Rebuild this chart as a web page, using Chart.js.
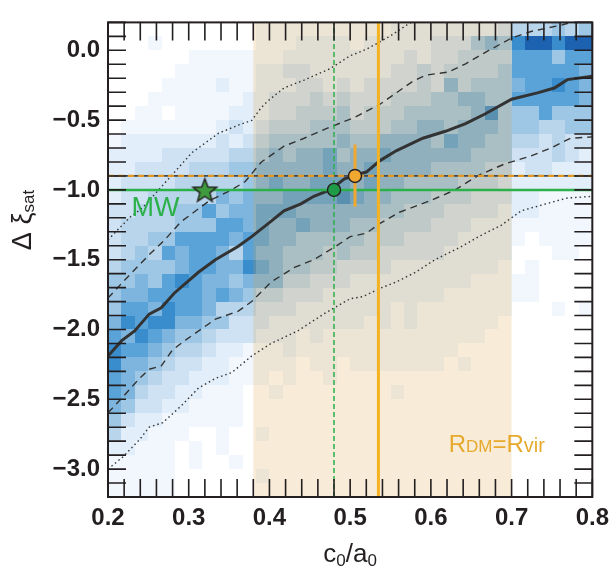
<!DOCTYPE html>
<html>
<head>
<meta charset="utf-8">
<script src="https://cdn.jsdelivr.net/npm/chart.js@4.4.0/dist/chart.umd.min.js"></script>
<style>
    body { margin: 0; background: #fff; }
    canvas { display: block; }
</style>
</head>
<body>
<canvas id="myChart" width="616" height="569"></canvas>
<script>
const xRange = [0.2, 0.8];
const yRange = [-3.2, 0.2];
const xBinWidth = 1 / 60;
const yBinWidth = 0.1;

// density level 0-9 per cell, rows from the top (y = 0.2) downwards,
// columns from x = 0.2; groups: left | band (left) | band (right) | right
const density = [
    "00000000000 1111111 111222222223 444545",
    "00010000000 1112222 122222333565 899899",
    "00000011111 1122222 222232334444 777577",
    "00000111111 2233222 222334344445 777776",
    "00001111211 2223323 233334364555 677876",
    "00011111112 2333434 333444556655 777776",
    "00110111122 2334445 344455555685 557555",
    "01111111232 3444555 444556656665 554455",
    "12222222323 4555556 556666576655 443433",
    "22223333344 5656675 667666666555 333432",
    "22333344455 6666676 676666555544 233222",
    "23333444445 6766777 676655554443 222222",
    "23344444656 6677778 766555444333 221111",
    "33444557566 7776666 665544433332 221111",
    "34444555776 7667666 554444333222 111111",
    "34455777767 7665555 544433332222 101111",
    "34547677647 6655545 443333322222 000110",
    "45555677668 7655443 333222222221 010000",
    "55657876656 6644333 222222222111 110000",
    "56677776765 4433322 222222211111 110000",
    "57768776444 3332222 222121111111 000101",
    "68788665533 3222222 212121111110 000000",
    "76876554333 2221211 111111111100 000000",
    "87765443221 1121111 111111110000 000000",
    "86654332211 1110110 111111101000 000000",
    "76543322211 1010010 000000000000 000000",
    "76433221110 0100000 000100000000 000000",
    "65332211110 0000000 000000000000 000000",
    "53221111110 0000000 000000000000 000000",
    "42211100100 1000000 000000000000 000000",
    "22111010100 0000000 000000000000 000000",
    "11111010010 0000000 000000000000 000000",
    "11111000000 1000000 000000000000 000000",
    "11111000000 0000000 000000000000 000000"
];
const blues = ['', '#f1f7fc', '#e2eef9', '#cfe2f3', '#b8d5eb', '#9dc7e5', '#7db5de', '#5aa3d8', '#3a8dcc', '#1d62b0'];

const band = [0.38, 0.7];

const medianX = [0.2, 0.217, 0.233, 0.251, 0.266, 0.282, 0.312, 0.333, 0.361, 0.378, 0.398, 0.418, 0.439, 0.455, 0.475, 0.493, 0.506, 0.52, 0.537, 0.557, 0.59, 0.618, 0.643, 0.667, 0.7, 0.732, 0.753, 0.769, 0.8];
const medianY = [-2.19, -2.08, -2.01, -1.89, -1.845, -1.74, -1.59, -1.5, -1.405, -1.335, -1.243, -1.15, -1.1, -1.046, -1.0, -0.92, -0.895, -0.872, -0.79, -0.72, -0.63, -0.58, -0.525, -0.456, -0.35, -0.305, -0.27, -0.21, -0.185];

const upper1X = [0.2, 0.22, 0.25, 0.27, 0.29, 0.325, 0.353, 0.37, 0.39, 0.418, 0.443, 0.475, 0.506, 0.537, 0.577, 0.594, 0.622, 0.643, 0.667, 0.7, 0.724, 0.761, 0.78];
const upper1Y = [-1.775, -1.65, -1.47, -1.36, -1.23, -1.08, -1.0, -0.94, -0.8, -0.687, -0.63, -0.55, -0.48, -0.386, -0.224, -0.178, -0.155, -0.097, -0.016, 0.088, 0.135, 0.18, 0.21];

const lower1X = [0.2, 0.219, 0.239, 0.251, 0.266, 0.28, 0.296, 0.333, 0.361, 0.378, 0.402, 0.431, 0.455, 0.482, 0.5, 0.52, 0.537, 0.561, 0.598, 0.63, 0.659, 0.691, 0.724, 0.749, 0.773, 0.8];
const lower1Y = [-2.597, -2.48, -2.35, -2.285, -2.26, -2.146, -2.076, -1.926, -1.87, -1.8, -1.66, -1.555, -1.5, -1.405, -1.335, -1.31, -1.24, -1.16, -1.08, -1.0, -0.895, -0.815, -0.757, -0.699, -0.63, -0.62];

const upper2X = [0.2, 0.227, 0.243, 0.272, 0.304, 0.337, 0.361, 0.378, 0.39, 0.398, 0.418, 0.443, 0.475, 0.5, 0.52, 0.549, 0.573, 0.585];
const upper2Y = [-1.358, -1.197, -1.127, -0.94, -0.733, -0.594, -0.537, -0.502, -0.41, -0.363, -0.27, -0.213, -0.132, -0.039, 0.007, 0.1, 0.192, 0.23];

const lower2X = [0.2, 0.219, 0.239, 0.251, 0.268, 0.292, 0.312, 0.333, 0.353, 0.378, 0.402, 0.435, 0.467, 0.5, 0.516, 0.537, 0.557, 0.581, 0.605, 0.638, 0.659, 0.687, 0.712, 0.74, 0.769, 0.8];
const lower2Y = [-3.0, -2.91, -2.79, -2.7, -2.667, -2.54, -2.42, -2.35, -2.31, -2.19, -2.1, -2.01, -1.89, -1.78, -1.764, -1.705, -1.66, -1.59, -1.5, -1.405, -1.335, -1.254, -1.15, -1.104, -1.058, -1.046];

const mwPoint = [0.32, -1.0];
const greenPoint = [0.48, -1.0];
const orangePoint = [0.506, -0.9];
const orangeErr = [-0.675, -1.12];
const orangeLineX = 0.535;

const ink = '#231f20';
const green = '#2bb04a';
const orange = '#f4b120';
const family = "'Liberation Sans', Arial, Helvetica, sans-serif";

function pts(xs, ys) {
    return xs.map((x, i) => ({ x: x, y: ys[i] }));
}

function makeStar(r, fill) {
    let c = document.createElement('canvas');
    let s = Math.ceil(2 * r + 4);
    c.width = c.height = s;
    let g = c.getContext('2d');
    g.translate(s / 2, s / 2 + r * 0.1);
    g.beginPath();
    for (let k = 0; k < 10; k++) {
        let rad = k % 2 ? r * 0.42 : r;
        let a = -Math.PI / 2 + k * Math.PI / 5;
        g.lineTo(rad * Math.cos(a), rad * Math.sin(a));
    }
    g.closePath();
    g.fillStyle = fill;
    g.fill();
    g.lineWidth = 1.4;
    g.strokeStyle = ink;
    g.stroke();
    return c;
}

function line(data, color, width, dash) {
    return {
        data: data, showLine: true, pointRadius: 0, tension: 0,
        borderColor: color, borderWidth: width, borderDash: dash || []
    };
}

function drawRich(ctx, parts, x, y) {
    for (let p of parts) {
        ctx.font = (p[2] || '') + ' ' + p[1] + 'px ' + family;
        ctx.fillText(p[0], x, y + (p[3] || 0));
        x += ctx.measureText(p[0]).width;
    }
}

function richWidth(ctx, parts) {
    let w = 0;
    for (let p of parts) {
        ctx.font = (p[2] || '') + ' ' + p[1] + 'px ' + family;
        w += ctx.measureText(p[0]).width;
    }
    return w;
}

const heatmap = {
    id: 'heatmap',
    beforeDatasetsDraw(chart) {
        const { ctx, chartArea: a, scales: { x, y } } = chart;
        ctx.save();
        ctx.beginPath();
        ctx.rect(a.left, a.top, a.width, a.height);
        ctx.clip();
        density.forEach((row, j) => {
            let cells = row.replace(/ /g, '');
            let y0 = Math.round(y.getPixelForValue(yRange[1] - j * yBinWidth));
            let y1 = Math.round(y.getPixelForValue(yRange[1] - (j + 1) * yBinWidth));
            for (let i = 0; i < cells.length; i++) {
                let lev = +cells[i];
                if (!lev) continue;
                let x0 = Math.round(x.getPixelForValue(xRange[0] + i * xBinWidth));
                let x1 = Math.round(x.getPixelForValue(xRange[0] + (i + 1) * xBinWidth));
                ctx.fillStyle = blues[lev];
                ctx.fillRect(x0, y0, x1 - x0, y1 - y0);
            }
        });
        let b0 = x.getPixelForValue(band[0]);
        let b1 = x.getPixelForValue(band[1]);
        ctx.fillStyle = 'rgba(220, 160, 60, 0.2)';
        ctx.fillRect(b0, a.top, b1 - b0, a.height);
        ctx.restore();
    }
};

const frame = {
    id: 'frame',
    afterDatasetsDraw(chart) {
        const { ctx, chartArea: a, scales: { x, y } } = chart;
        const len = 18;
        ctx.save();
        ctx.strokeStyle = ink;
        ctx.lineWidth = 1.6;
        ctx.beginPath();
        for (let t of x.ticks) {
            let px = x.getPixelForValue(t.value);
            ctx.moveTo(px, a.bottom); ctx.lineTo(px, a.bottom - len);
            ctx.moveTo(px, a.top); ctx.lineTo(px, a.top + len);
        }
        for (let t of y.ticks) {
            let py = y.getPixelForValue(t.value);
            ctx.moveTo(a.left, py); ctx.lineTo(a.left + len, py);
            ctx.moveTo(a.right, py); ctx.lineTo(a.right - len, py);
        }
        ctx.stroke();
        ctx.lineWidth = 2;
        ctx.strokeRect(a.left, a.top, a.width, a.height);

        // labels inside the plot
        ctx.textAlign = 'left';
        ctx.textBaseline = 'alphabetic';
        ctx.fillStyle = green;
        drawRich(ctx, [['MW', 27]], x.getPixelForValue(0.229), y.getPixelForValue(-1.19));
        ctx.fillStyle = '#e6a92c';
        drawRich(ctx, [['R', 24], ['DM', 17], ['=', 24], ['R', 24], ['vir', 20]],
            x.getPixelForValue(0.622), y.getPixelForValue(-2.88));

        // axis titles
        ctx.fillStyle = ink;
        let xt = [['c', 26], ['0', 17, '', 4], ['/a', 26], ['0', 17, '', 4]];
        let cx = (a.left + a.right) / 2;
        drawRich(ctx, xt, cx - richWidth(ctx, xt) / 2, 562);

        let yt = [['\u0394 \u03be', 27], ['sat', 17, '', 3]];
        ctx.translate(31, 220);
        ctx.rotate(-Math.PI / 2);
        drawRich(ctx, yt, -richWidth(ctx, yt) / 2, 0);
        ctx.restore();
    }
};

const starImg = makeStar(12.5, '#3f9a3e');

const data = {
    datasets: [
        { data: pts([mwPoint[0]], [mwPoint[1]]), pointStyle: starImg, pointRadius: 12 },
        { data: pts([orangePoint[0]], [orangePoint[1]]), pointRadius: 6.5, backgroundColor: '#f0a830', borderColor: ink, borderWidth: 1.4 },
        { data: pts([greenPoint[0]], [greenPoint[1]]), pointRadius: 6.5, backgroundColor: '#1f9b47', borderColor: ink, borderWidth: 1.4 },
        line(pts([orangePoint[0], orangePoint[0]], orangeErr), '#f0a830', 3),
        line(pts([orangeLineX, orangeLineX], yRange), orange, 3),
        line(pts(xRange, [orangePoint[1], orangePoint[1]]), '#e39a25', 2.2, [6, 4]),
        line(pts(xRange, [orangePoint[1], orangePoint[1]]), '#4a4a4a', 1.8),
        line(pts(xRange, [greenPoint[1], greenPoint[1]]), green, 2.5),
        line(pts([greenPoint[0], greenPoint[0]], yRange), green, 1.5, [5, 3]),
        line(pts(medianX, medianY), '#333333', 3),
        line(pts(upper1X, upper1Y), '#333333', 1.4, [7, 5]),
        line(pts(lower1X, lower1Y), '#333333', 1.4, [7, 5]),
        line(pts(upper2X, upper2Y), '#333333', 1.4, [1.5, 3]),
        line(pts(lower2X, lower2Y), '#333333', 1.4, [1.5, 3])
    ]
};

const options = {
    responsive: false,
    animation: false,
    devicePixelRatio: 1,
    layout: { padding: { top: 9, right: 17, left: 0, bottom: 0 } },
    plugins: { legend: { display: false }, tooltip: { enabled: false } },
    scales: {
        x: {
            type: 'linear', min: xRange[0], max: xRange[1],
            grid: { display: false, drawTicks: false },
            border: { display: false },
            ticks: {
                stepSize: 0.02, autoSkip: false, maxRotation: 0, padding: 7,
                color: ink, font: { family: family, size: 24, weight: 'bold' },
                callback: v => Math.round(v * 100) % 10 === 0 ? v.toFixed(1) : ''
            },
            afterFit: s => { s.height = 72; }
        },
        y: {
            type: 'linear', min: yRange[0], max: yRange[1],
            grid: { display: false, drawTicks: false },
            border: { display: false },
            ticks: {
                stepSize: 0.1, autoSkip: false, padding: 8,
                color: ink, font: { family: family, size: 24, weight: 'bold' },
                callback: v => Math.round(v * 10) % 5 === 0 ? v.toFixed(1).replace('-', '\u2212') : ''
            },
            afterFit: s => { s.width = 108; }
        }
    }
};

const config = {
    type: 'scatter',
    data,
    options,
    plugins: [heatmap, frame]
};

var myChart = new Chart(document.getElementById('myChart'), config);
</script>
</body>
</html>
